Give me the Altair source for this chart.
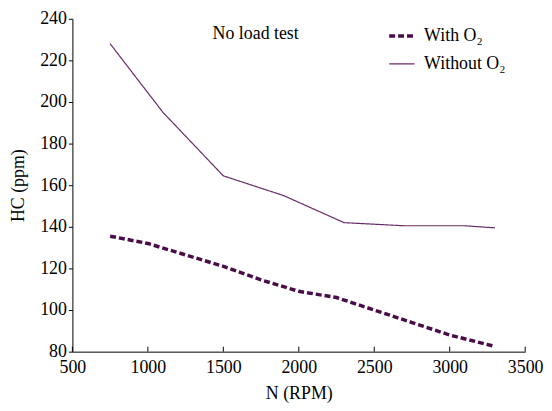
import altair as alt
import pandas as pd

# Data
rpm_with = [750, 1000, 1250, 1500, 1750, 2000, 2250, 2500, 2750, 3000, 3300]
hc_with = [135.5, 132, 126.5, 121, 114.5, 109, 106, 100, 94, 88, 82.5]
rpm_without = [750, 1100, 1500, 1900, 2300, 2700, 3100, 3300]
hc_without = [228, 195, 164.5, 155, 142, 140.5, 140.5, 139.5]
series_names = ["With O\u2082", "Without O\u2082"]
x_ticks = [500, 1000, 1500, 2000, 2500, 3000, 3500]
y_ticks = [80, 100, 120, 140, 160, 180, 200, 220, 240]

rows = []
for i, (x, y) in enumerate(zip(rpm_with, hc_with)):
    rows.append({"N": x, "HC": y, "series": series_names[0], "o": i})
for i, (x, y) in enumerate(zip(rpm_without, hc_without)):
    rows.append({"N": x, "HC": y, "series": series_names[1], "o": i})
df = pd.DataFrame(rows)

FONT = "Liberation Serif"
FS = 18
W, H = 457, 336

xscale = alt.Scale(domain=[500, 3500], nice=False, zero=False)
yscale = alt.Scale(domain=[80, 240], nice=False, zero=False)


def leg():
    return alt.Legend(title=None, orient="none", legendX=318, legendY=3,
                      symbolType="stroke", symbolSize=650,
                      labelFont=FONT, labelFontSize=FS, labelColor="#000",
                      rowPadding=5, labelOffset=8)


lines = alt.Chart(df).mark_line(strokeCap="butt").encode(
    x=alt.X("N:Q", scale=xscale,
            axis=alt.Axis(title="N (RPM)", values=x_ticks, format="d",
                          tickSize=0, labelPadding=7, titlePadding=8,
                          labelFont=FONT, labelFontSize=FS, titleFont=FONT,
                          titleFontSize=FS, titleFontWeight="normal",
                          labelColor="#000", titleColor="#000",
                          domainColor="#000", labelFlush=False)),
    y=alt.Y("HC:Q", scale=yscale,
            axis=alt.Axis(title="HC (ppm)", values=y_ticks,
                          tickSize=4, tickColor="#000", labelPadding=2,
                          titlePadding=12,
                          labelFont=FONT, labelFontSize=FS, titleFont=FONT,
                          titleFontSize=FS, titleFontWeight="normal",
                          labelColor="#000", titleColor="#000",
                          domainColor="#000")),
    order="o:Q",
    color=alt.Color("series:N",
                    scale=alt.Scale(domain=series_names, range=["#4a0c48", "#6a2a6a"]),
                    legend=leg()),
    strokeDash=alt.StrokeDash("series:N",
                              scale=alt.Scale(domain=series_names, range=[[6, 3], [1, 0]]),
                              legend=leg()),
    strokeWidth=alt.StrokeWidth("series:N",
                                scale=alt.Scale(domain=series_names, range=[3.5, 1.2]),
                                legend=leg()),
)

tick_df = pd.DataFrame({"N": x_ticks})
xticks = alt.Chart(tick_df).mark_rule(color="#000", strokeWidth=1).encode(
    x=alt.X("N:Q", scale=xscale),
    y=alt.value(H),
    y2=alt.value(H - 5),
)

label = alt.Chart(pd.DataFrame({"t": ["No load test"]})).mark_text(
    font=FONT, fontSize=FS, color="#000", align="center", baseline="middle"
).encode(text="t:N", x=alt.value(185), y=alt.value(15))

chart = alt.layer(lines, xticks, label).properties(
    width=W, height=H,
    autosize=alt.AutoSizeParams(type="none"),
    padding={"left": 65, "top": 9, "right": 19, "bottom": 54},
).configure_view(stroke=None).configure_axis(grid=False)

chart.save("out.html", embed_options={"renderer": "svg", "actions": False})
